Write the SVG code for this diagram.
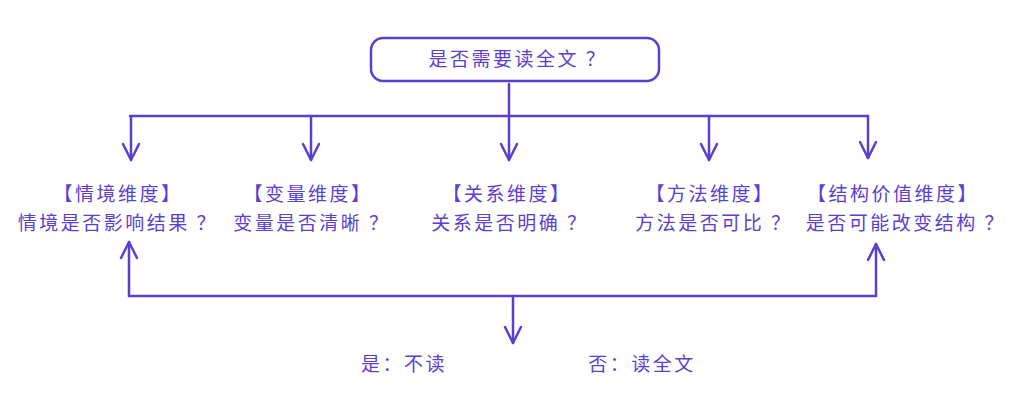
<svg xmlns="http://www.w3.org/2000/svg" width="1024" height="412" viewBox="0 0 1024 412">
<style>
text{font-family:"Noto Sans CJK SC",sans-serif;font-size:19px;fill:#5b3fd0;text-anchor:middle;letter-spacing:2.5px}
.l{fill:none;stroke:#5b3fd0;stroke-width:2.5;stroke-linecap:round;stroke-linejoin:round}
</style>
<defs><marker id="a" viewBox="0 0 20 20" refX="18" refY="10" markerWidth="20" markerHeight="20" markerUnits="userSpaceOnUse" orient="auto"><path d="M2,2 L18,10 L2,18" class="l"/></marker></defs>
<rect width="1024" height="412" fill="#fff"/>
<g id="root"><rect x="371" y="38" width="288" height="43" rx="12" class="l"/><text x="518" y="66">是否需要读全文 ？</text></g>
<g id="connectors" class="l">
<path d="M509,84 V116 M130,116 H868"/>
<path d="M131,116 V160" marker-end="url(#a)"/>
<path d="M311,116 V160" marker-end="url(#a)"/>
<path d="M509,116 V160" marker-end="url(#a)"/>
<path d="M709,116 V160" marker-end="url(#a)"/>
<path d="M868,116 V158" marker-end="url(#a)"/>
<path d="M129,296 H876"/>
<path d="M129,296 V242" marker-end="url(#a)"/>
<path d="M876,296 V244" marker-end="url(#a)"/>
<path d="M513,296 V343" marker-end="url(#a)"/>
</g>
<g id="n1"><text x="118" y="201">【情境维度】</text><text x="118" y="230">情境是否影响结果 ？</text></g>
<g id="n2"><text x="308" y="201">【变量维度】</text><text x="312" y="230">变量是否清晰 ？</text></g>
<g id="n3"><text x="507" y="201">【关系维度】</text><text x="510" y="230">关系是否明确 ？</text></g>
<g id="n4"><text x="710" y="201">【方法维度】</text><text x="714" y="230">方法是否可比 ？</text></g>
<g id="n5"><text x="893" y="201">【结构价值维度】</text><text x="906" y="230">是否可能改变结构 ？</text></g>
<g id="yes"><text x="404" y="371">是：不读</text></g>
<g id="no"><text x="642" y="371">否：读全文</text></g>
</svg>
